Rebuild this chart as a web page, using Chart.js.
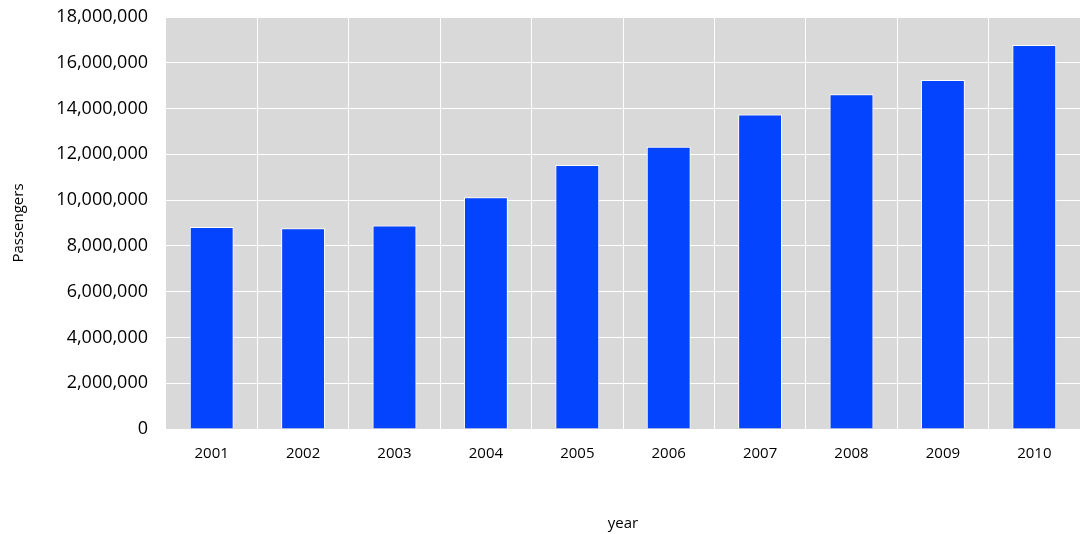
<!DOCTYPE html>
<html>
<head>
<meta charset="utf-8">
<script src="https://cdn.jsdelivr.net/npm/chart.js@4/dist/chart.umd.min.js"></script>
<style>
  body { margin: 0; background: #fff; }
  #wrap { width: 1081px; height: 534px; }
</style>
</head>
<body>
<div id="wrap"><canvas id="chart"></canvas></div>
<script>
const years = ["2001", "2002", "2003", "2004", "2005", "2006", "2007", "2008", "2009", "2010"]
const passengers = [8830000, 8770000, 8890000, 10120000, 11530000, 12330000, 13740000, 14630000, 15250000, 16780000]
const yTicks = [0, 2000000, 4000000, 6000000, 8000000, 10000000, 12000000, 14000000, 16000000, 18000000]

const plotBg = {
  id: "plotBg",
  beforeDraw(chart) {
    const { ctx, chartArea: a } = chart
    ctx.save()
    ctx.fillStyle = "#d9d9d9"
    ctx.fillRect(a.left, a.top, a.right - a.left, a.bottom - a.top)
    ctx.restore()
  }
}

new Chart(document.getElementById("chart"), {
  type: "bar",
  data: {
    labels: years,
    datasets: [{
      data: passengers,
      backgroundColor: "#0544ff",
      borderColor: "#ffffff",
      borderWidth: 1,
      categoryPercentage: 1,
      barPercentage: 0.48
    }]
  },
  options: {
    responsive: true,
    maintainAspectRatio: false,
    animation: false,
    layout: { padding: { top: 17, right: 1, left: 0, bottom: 0 } },
    plugins: {
      legend: { display: false },
      tooltip: { enabled: false }
    },
    scales: {
      x: {
        afterFit(s) { s.height = 105 },
        grid: { color: "#ffffff", lineWidth: 1, drawTicks: false, offset: true },
        border: { display: false },
        ticks: { color: "#000", font: { family: "Open Sans", size: 15 }, padding: 16 },
        title: { display: true, text: "year", color: "#000", font: { family: "Open Sans", size: 15 }, padding: { top: 0, bottom: 1 } }
      },
      y: {
        min: 0,
        max: 18000000,
        afterFit(s) {
          s.width = 166
          s.paddingTop = 0
          s.paddingBottom = 0
        },
        afterBuildTicks(s) { s.ticks = yTicks.map(v => ({ value: v })) },
        grid: { color: "#ffffff", lineWidth: 1, drawTicks: false },
        border: { display: false },
        ticks: {
          color: "#000",
          font: { family: "Open Sans", size: 18 },
          padding: 18,
          callback: v => v.toLocaleString("en-US")
        },
        title: { display: true, text: "Passengers", color: "#000", font: { family: "Open Sans", size: 15 }, padding: { top: 10, bottom: 0 } }
      }
    }
  },
  plugins: [plotBg]
})
</script>
</body>
</html>
